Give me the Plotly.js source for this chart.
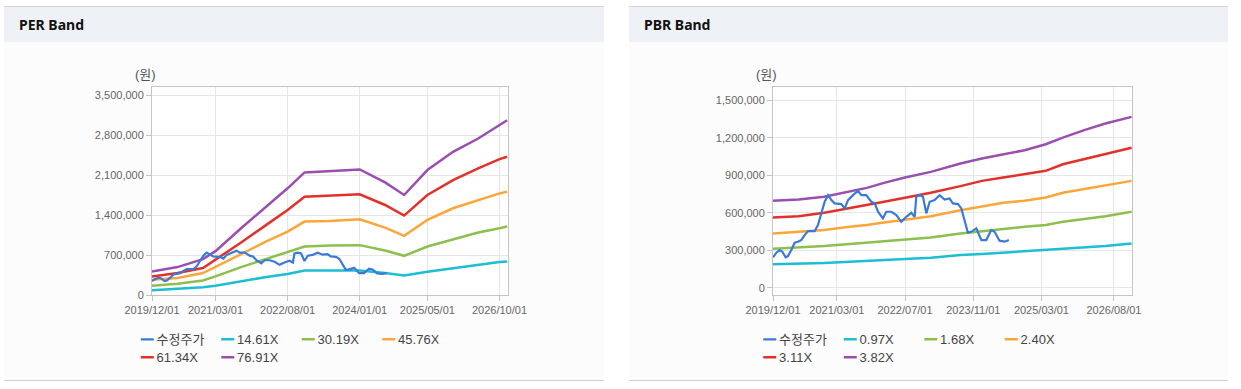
<!DOCTYPE html>
<html><head><meta charset="utf-8">
<script src="https://cdn.plot.ly/plotly-3.0.1.min.js"></script>
<style>
html,body{margin:0;padding:0;background:#fff;width:1241px;height:389px;overflow:hidden;}
.panel{position:absolute;top:6px;height:373px;border-top:1px solid #d4d4d4;border-bottom:1px solid #cfcfcf;background:#fcfcfc;}
.hdr{height:35px;background:#eef2f7;box-sizing:border-box;padding-left:15px;line-height:36px;font-weight:bold;font-size:14px;color:#111;font-family:"Noto Sans","Noto Sans CJK KR",sans-serif;}
.chart{width:100%;height:338px;}
/* short legend swatches like the original */
.chart .legendlines path{transform:translateX(22px) scaleX(0.433);}
</style></head>
<body>
<div class="panel" style="left:4px;width:600px;"><div class="hdr">PER Band</div><div id="per" class="chart"></div></div>
<div class="panel" style="left:629px;width:599px;"><div class="hdr">PBR Band</div><div id="pbr" class="chart"></div></div>
<script>
// ---- shared price series (수정주가) ----
const priceDates = ['2019-12-01','2019-12-25','2020-01-18','2020-02-06','2020-02-29','2020-03-17','2020-04-10','2020-05-04','2020-05-27','2020-06-20','2020-07-14','2020-08-07','2020-09-24','2020-10-17','2020-11-10','2020-12-04','2020-12-28','2021-01-21','2021-02-13','2021-04-02','2021-04-26','2021-05-20','2021-06-24','2021-07-30','2021-08-23','2021-09-27','2021-11-02','2021-11-26','2021-12-20','2022-01-24','2022-02-17','2022-03-25','2022-04-30','2022-06-04','2022-07-10','2022-08-15','2022-09-08','2022-09-19','2022-10-13','2022-11-06','2022-11-30','2022-12-24','2023-01-28','2023-03-05','2023-04-10','2023-05-15','2023-06-08','2023-07-14','2023-08-07','2023-08-31','2023-09-23','2023-10-17','2023-11-22','2023-12-28','2024-02-01','2024-03-08','2024-04-01','2024-05-06','2024-06-11','2024-07-12'];
const price = [245000,282000,303000,290000,245000,255000,303000,362000,370000,383000,423000,455000,455000,503000,596000,689000,742000,702000,676000,670000,636000,702000,742000,777000,742000,742000,689000,676000,609000,556000,609000,609000,582000,529000,569000,601000,569000,729000,742000,729000,596000,689000,702000,742000,707000,715000,676000,670000,636000,543000,442000,449000,476000,383000,383000,463000,449000,378000,370000,383000];

// ---- PER band ----
const perDates = ['2019-12-01','2020-06-01','2020-12-01','2021-03-01','2021-09-01','2022-03-01','2022-08-01','2022-12-01','2023-06-01','2024-01-01','2024-07-01','2024-11-15','2025-05-01','2025-11-01','2026-05-01','2026-10-01','2026-11-25'];
const per1461 = [82000,105000,134000,163000,245000,315000,367000,431000,431000,431000,384000,344000,408000,472000,530000,577000,588000];
const per3019 = [163000,198000,256000,326000,489000,629000,745000,850000,868000,874000,780000,687000,850000,978000,1095000,1171000,1200000];
const per4576 = [268000,297000,384000,489000,716000,938000,1112000,1287000,1299000,1328000,1182000,1037000,1316000,1520000,1666000,1782000,1811000];
const per6134 = [326000,384000,472000,617000,920000,1229000,1491000,1724000,1741000,1765000,1578000,1392000,1753000,2015000,2219000,2382000,2423000];
const per7691 = [413000,489000,629000,769000,1171000,1549000,1870000,2149000,2172000,2201000,1974000,1753000,2190000,2510000,2743000,2976000,3063000];
const perNames = ['수정주가','14.61X','30.19X','45.76X','61.34X','76.91X'];
const perTickVals = ['2019-12-01','2021-03-01','2022-08-01','2024-01-01','2025-05-01','2026-10-01'];
const perTickText = ['2019/12/01','2021/03/01','2022/08/01','2024/01/01','2025/05/01','2026/10/01'];

// ---- PBR band ----
const pbrDates = ['2019-12-01','2020-06-01','2020-12-01','2021-06-01','2021-10-01','2022-02-01','2022-07-01','2023-01-01','2023-08-01','2024-01-01','2024-06-01','2024-11-01','2025-04-01','2025-08-01','2026-01-01','2026-06-01','2026-12-05'];
const pbr097 = [189000,191000,199000,210000,215000,223000,231000,242000,263000,271000,282000,290000,301000,311000,324000,335000,356000];
const pbr168 = [314000,322000,335000,351000,362000,375000,388000,404000,436000,455000,476000,489000,503000,529000,551000,574000,609000];
const pbr240 = [436000,449000,463000,489000,503000,524000,548000,574000,622000,654000,681000,697000,723000,761000,790000,822000,856000];
const pbr311 = [564000,574000,601000,636000,662000,689000,721000,761000,814000,856000,883000,907000,936000,989000,1029000,1074000,1120000];
const pbr382 = [697000,707000,729000,769000,800000,840000,883000,928000,995000,1035000,1069000,1101000,1149000,1202000,1261000,1314000,1367000];
const pbrNames = ['수정주가','0.97X','1.68X','2.40X','3.11X','3.82X'];
const pbrTickVals = ['2019-12-01','2021-03-01','2022-07-01','2023-11-01','2025-03-01','2026-08-01'];
const pbrTickText = ['2019/12/01','2021/03/01','2022/07/01','2023/11/01','2025/03/01','2026/08/01'];

const colors = ['#3a7ad6','#1dbdd3','#8cbf4e','#fca63a','#e2302a','#9a4fae'];
const FONT = '"Liberation Sans", Arial, "Noto Sans CJK KR", sans-serif';

function traces(names, bandDates, bands){
  const out = [];
  bands.forEach((b,i)=>{
    out.push({x:bandDates, y:b, name:names[i+1], type:'scatter', mode:'lines',
      line:{color:colors[i+1], width:2.5}, legend: i < 3 ? 'legend' : 'legend2',
      legendrank:i+2, hoverinfo:'skip'});
  });
  out.push({x:priceDates, y:price, name:names[0], type:'scatter', mode:'lines',
    line:{color:colors[0], width:2.2}, legend:'legend', legendrank:1, hoverinfo:'skip'});
  return out;
}

function leg(x, y){
  return {orientation:'h', x:x, xanchor:'left', y:y, yanchor:'top',
    entrywidth:35.5, entrywidthmode:'pixels', itemwidth:30,
    font:{family:FONT, size:13, color:'#444'}, bgcolor:'rgba(0,0,0,0)', traceorder:'normal'};
}

function layout(o){
  return {
    width:o.w, height:338,
    margin:{l:o.l, r:o.r, t:45, b:85, autoexpand:false},
    paper_bgcolor:'#fcfcfc', plot_bgcolor:'#ffffff',
    font:{family:FONT, size:11, color:'#666'},
    showlegend:true,
    legend:leg(o.lx, -0.1412),
    legend2:leg(o.lx, -0.2272),
    xaxis:{type:'date', range:o.xr, tickvals:o.tv, ticktext:o.tt, showgrid:true, gridcolor:'#e6e6e6',
      showline:true, linecolor:'#c4c4c4', mirror:true, ticks:'outside', ticklen:5, tickcolor:'#c4c4c4',
      zeroline:false, tickfont:{size:11, color:'#666'}},
    yaxis:{range:o.yr, tick0:0, dtick:o.dt, tickformat:',d', showgrid:true, gridcolor:'#e6e6e6',
      showline:true, linecolor:'#c4c4c4', mirror:true, ticks:'outside', ticklen:5, tickcolor:'#c4c4c4',
      zeroline:false, tickfont:{size:11, color:'#666'}},
    annotations:[{text:'(원)', xref:'paper', yref:'paper', x:0, y:1, xanchor:'center', yanchor:'middle',
      xshift:o.ax, yshift:13, showarrow:false, font:{family:FONT, size:13, color:'#555'}}]
  };
}

const cfg = {displayModeBar:false, staticPlot:true};
Plotly.newPlot('per', traces(perNames, perDates, [per1461,per3019,per4576,per6134,per7691]),
  layout({w:600, l:148, r:96, xr:['2019-12-01','2026-12-01'], tv:perTickVals, tt:perTickText,
    yr:[0,3646000], dt:700000, lx:-0.0994, ax:-7}), cfg);
Plotly.newPlot('pbr', traces(pbrNames, pbrDates, [pbr097,pbr168,pbr240,pbr311,pbr382]),
  layout({w:599, l:144, r:96, xr:['2019-12-01','2026-12-08'], tv:pbrTickVals, tt:pbrTickText,
    yr:[-56000,1606000], dt:300000, lx:-0.0944, ax:-7}), cfg);
</script>
</body></html>
